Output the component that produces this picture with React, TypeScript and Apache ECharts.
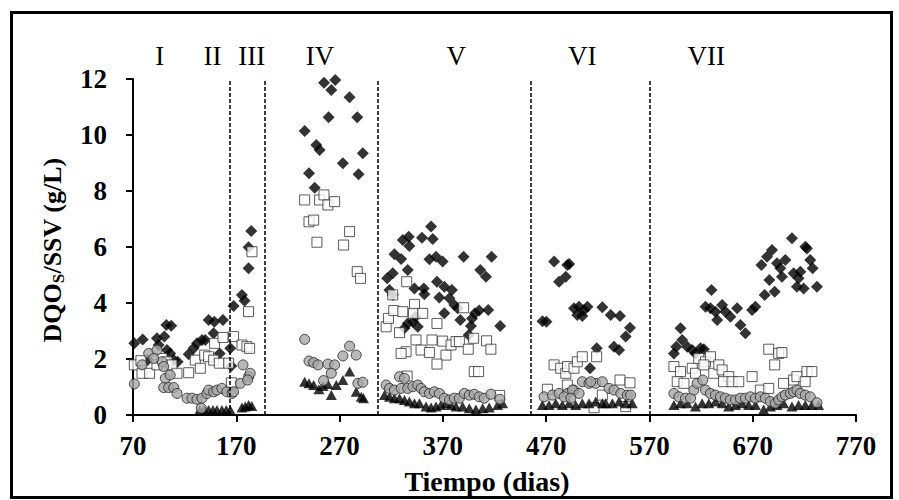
import React, { useEffect, useRef } from "react";
import * as echarts from "echarts";

// X axis (days) and Y axis ticks
const xMin = 70;
const xMax = 770;
const xInterval = 100;
const yMin = 0;
const yMax = 12;
const yInterval = 2;

// Phase boundaries (days) and phase labels
const phaseBoundaries = [163.5, 198, 306.5, 455, 570.5];
const phaseLabels = ["I", "II", "III", "IV", "V", "VI", "VII"];
const phaseLabelDays = [96, 147, 185, 251, 383, 505, 625];

// Series 1: black diamonds [day, g/L]
const diamondPts: [number, number][] = [
  [71.3, 2.56], [79.4, 2.7], [84.2, 1.96], [93.2, 2.74], [94.8, 2.5], [102.3, 3.21], [107, 3.19],
  [100.3, 2.8], [102.9, 2.32], [106, 2.2], [109.4, 1.96], [113.2, 1.9], [123.9, 2.17], [128.7, 2.38],
  [132, 2.56], [136.8, 2.68], [140, 2.68], [143.2, 3.39], [148.7, 3.33], [157.1, 3.39], [148, 2.92],
  [153.9, 2.2], [164.2, 2.38], [165.2, 1.75], [167.4, 3.89], [175.5, 4.29], [178, 4.08], [181.9, 5.24],
  [181.9, 5.99], [184.5, 6.57],
  [254.9, 11.87], [265.8, 11.96], [262, 11.61], [279.7, 11.35], [259.4, 10.63], [287.1, 10.63],
  [236.2, 10.14], [247.5, 9.64], [250.7, 9.46], [292.5, 9.35], [273.2, 8.99], [240.4, 8.63],
  [288.4, 8.6], [245.9, 8.12],
  [316.1, 4.88], [321.5, 5.06], [318.3, 4.46], [321.5, 4.29], [323.1, 5.74], [329.6, 5.57], [331.2, 6.25],
  [337, 6.37], [337.6, 6.04], [336, 5.18], [342.5, 4.52], [351.5, 4.52], [352.1, 4.31], [349.8, 6.33],
  [358.6, 6.73], [360.2, 6.29], [357, 5.56], [363.4, 5.65], [369.8, 5.48], [390.1, 5.65], [417.2, 5.65],
  [406.2, 5.18], [411.7, 4.94], [364.3, 4.76], [371.4, 4.58], [378.8, 4.46], [366.6, 4.2], [376.3, 4.17],
  [381.1, 3.93], [384.3, 3.81], [371.4, 3.63], [386.9, 3.39], [401.1, 3.63], [398.2, 3.45], [405.2, 3.73],
  [413.9, 3.75], [425.5, 3.18], [397.2, 3.18], [395, 2.86], [336, 3.27], [340.9, 3.33], [345.7, 3.15],
  [332.8, 3.1], [343.4, 3.51],
  [466.5, 3.35], [470.3, 3.33], [477.7, 5.48], [490.5, 5.36], [489, 4.94], [482.5, 4.76], [492.3, 5.39],
  [497, 3.81], [501.8, 3.87], [506.7, 3.75], [500.2, 3.57], [505, 3.54], [510, 3.87], [524.4, 3.85],
  [532.5, 3.57], [541.5, 3.54], [551.2, 3.12], [547, 2.8], [535.7, 2.44], [540.6, 2.32], [519, 2.38],
  [512.5, 1.67],
  [593.7, 2.2], [596, 2.44], [600.1, 3.1], [601.7, 2.68], [606.6, 2.44], [611.4, 2.32], [614.6, 2.2],
  [619.5, 2.38], [622.7, 2.35], [630.1, 4.46], [624.3, 3.87], [629.1, 3.81], [633.9, 3.69], [635.6, 3.39],
  [640.4, 3.93], [643.6, 3.69], [648.4, 3.51], [654.9, 3.81], [658.1, 3.21], [662.9, 2.92], [669.4, 3.75],
  [672.6, 3.87], [681.6, 4.29], [686.1, 4.82], [691.3, 4.4], [678.4, 5.36], [683.9, 5.65], [688.7, 5.89],
  [693.5, 5.42], [696.7, 5.24], [701.6, 5.54], [698.3, 4.94], [708, 6.31], [709.6, 5.06], [714.4, 4.88],
  [712.8, 4.58], [716.1, 5.12], [720.9, 6.01], [722.5, 5.95], [725.7, 5.54], [728, 5.24], [719.3, 4.52],
  [732.2, 4.58],
];

// Series 2: open squares
const squarePts: [number, number][] = [
  [71.3, 1.79], [77.7, 1.94], [78.7, 1.49], [86.1, 1.49], [93.2, 1.79], [98.1, 2.02], [102.9, 1.9],
  [107.7, 1.79], [112.6, 1.49], [123.9, 1.51], [130.3, 1.96], [135.2, 1.67], [139.4, 2.14], [143.2, 2.08],
  [148.1, 1.96], [149, 2.56], [157.1, 2.77], [153.6, 1.85], [162.6, 1.85], [165.2, 1.15], [167.4, 2.8],
  [175.5, 2.5], [180.3, 2.44], [182.9, 2.38], [181.9, 3.69], [185.2, 5.83],
  [236.2, 7.68], [250.7, 7.68], [254.9, 7.86], [258.7, 7.5], [265.2, 7.62], [240.4, 6.9], [244.9, 6.96],
  [279.7, 6.55], [248.1, 6.17], [273.9, 6.07], [287.1, 5.12], [290.3, 4.88],
  [315.1, 3.15], [317.3, 3.45], [321.5, 4.29], [335, 4.76], [322.5, 3.73], [331.2, 3.69], [342.5, 3.95],
  [341.5, 3.63], [350.5, 3.63], [328, 2.94], [344, 2.68], [348.9, 2.32], [334.4, 2.26], [329.6, 2.2],
  [357, 2.23], [359.5, 2.68], [364.3, 3.27], [369.8, 2.64], [373, 2.14], [377.9, 2.5], [382.7, 2.62],
  [390.1, 3.83], [386, 2.62], [394.6, 2.35], [399.8, 2.74], [412.3, 2.65], [416.5, 2.35], [364.3, 1.82],
  [400.4, 1.55], [404.6, 1.55], [335.4, 1.39], [425, 0.7],
  [471.2, 0.92], [477.7, 1.79], [484.1, 1.67], [489, 1.49], [490.7, 1.73], [497, 1.67], [500.2, 1.9],
  [505, 2.08], [518.9, 2.08], [490.5, 1.07], [524.4, 0.71], [541.5, 1.25], [551.2, 1.15], [516.4, 0.26],
  [547, 0.3],
  [593.7, 1.73], [600.1, 1.55], [596.9, 1.19], [603.4, 1.13], [611.4, 1.67], [614.6, 1.49], [617.8, 2.02],
  [624.3, 1.9], [629.1, 2.08], [622.7, 1.79], [632.3, 1.49], [637.2, 1.79], [640.4, 1.61], [646.8, 1.37],
  [641.8, 1.19], [650, 1.19], [656.5, 1.19], [669.4, 1.37], [685.5, 2.35], [695.1, 2.2], [691.3, 1.79],
  [698.3, 2.23], [677.4, 0.89], [685.5, 0.95], [699.9, 1.13], [709.6, 1.25], [712.8, 1.37], [722.5, 1.55],
  [727.3, 1.55], [720.8, 1.19],
];

// Series 3: gray circles
const circlePts: [number, number][] = [
  [71.3, 1.11], [78.7, 1.79], [85.2, 2.2], [93.2, 2.32], [98.1, 1.9], [99.7, 1.73], [90, 2.02],
  [101.3, 1.31], [106, 1.43], [99.7, 0.98], [104.5, 0.98], [109.4, 0.98], [112.6, 0.77], [122.3, 0.6],
  [127.1, 0.6], [132, 0.56], [136.8, 0.6], [141.6, 0.77], [143.2, 0.89], [148.1, 0.83], [151.3, 0.89],
  [156.1, 0.95], [160.9, 0.83], [165.8, 0.77], [167.4, 0.83], [136.1, 0.24], [173.9, 1.13], [176.5, 1.79],
  [181.9, 1.37], [183.5, 1.49], [181, 1.25],
  [236.2, 2.7], [240.4, 1.93], [244.9, 1.87], [249.1, 1.79], [258.7, 1.82], [265.2, 1.79], [262, 1.49],
  [279.7, 2.46], [273.2, 2.11], [286.1, 2.14], [254.5, 1.23], [287.7, 1.13], [292.5, 1.17],
  [315.1, 1.07], [318.3, 0.95], [323.1, 0.89], [328, 1.37], [332.8, 1.31], [329.6, 0.95], [336, 0.95],
  [340.9, 1.01], [345.7, 1.07], [348.9, 0.95], [352.1, 0.83], [357, 0.77], [361.8, 0.83], [366.6, 0.77],
  [371.4, 0.6], [376.3, 0.54], [381.1, 0.6], [386, 0.6], [390.8, 0.77], [395.6, 0.71], [400.4, 0.74],
  [405.2, 0.65], [410.1, 0.6], [416.5, 0.74], [425.2, 0.56],
  [468, 0.65], [476, 0.71], [482.5, 0.77], [490.5, 0.77], [497, 0.89], [505, 1.19], [511.5, 1.13],
  [518, 1.13], [524.4, 1.19], [513.2, 1.19], [530.9, 0.95], [535.7, 0.89], [542.2, 0.77], [548.6, 0.71],
  [551.8, 0.71], [495.5, 0.89], [487.4, 0.65], [501.9, 0.77], [493.9, 0.6],
  [593.7, 0.77], [598.5, 0.65], [604.9, 0.6], [609.8, 0.6], [613, 0.89], [616.2, 1.13], [621.7, 1.25],
  [624.3, 0.89], [629.1, 0.77], [633.9, 0.71], [638.8, 0.65], [643.6, 0.6], [648.4, 0.54], [653.3, 0.54],
  [658.1, 0.6], [662.9, 0.6], [667.7, 0.65], [672.6, 0.6], [677.4, 0.65], [682.2, 0.6], [687.1, 0.48],
  [691.9, 0.42], [695.1, 0.54], [698.3, 0.65], [701.6, 0.71], [706.4, 0.77], [709.6, 0.83], [712.8, 0.89],
  [716.1, 0.77], [720.9, 0.71], [725.7, 0.65], [732.2, 0.44],
];

// Series 4: black triangles
const trianglePts: [number, number][] = [
  [134.5, 0.18], [139, 0.18], [143.2, 0.18], [147.4, 0.18], [151.3, 0.18], [156.1, 0.18], [160.3, 0.18],
  [164.2, 0.18], [175.5, 0.27], [178.7, 0.3], [182, 0.36], [185, 0.32],
  [236.2, 1.19], [240.4, 1.13], [244.9, 1.07], [250, 0.92], [253.9, 1.04], [262, 0.71], [258.7, 1.11],
  [266.8, 1.07], [273.2, 1.25], [279.7, 1.55], [286.1, 0.83], [291, 0.65], [293.2, 0.6],
  [313.5, 0.71], [318.3, 0.65], [323.1, 0.6], [328, 0.6], [332.8, 0.54], [337.6, 0.48], [342.5, 0.42],
  [347.3, 0.42], [353.7, 0.3], [358.6, 0.27], [363.4, 0.3], [368.2, 0.36], [373, 0.42], [377.9, 0.36],
  [382.7, 0.3], [389.1, 0.3], [395.6, 0.24], [402, 0.2], [408.5, 0.24], [414.9, 0.27], [423, 0.36],
  [427.8, 0.42],
  [466.4, 0.36], [472.8, 0.36], [479.3, 0.42], [485.7, 0.36], [492.2, 0.42], [498.6, 0.36], [505, 0.42],
  [511.5, 0.42], [518, 0.48], [524.4, 0.42], [527.7, 0.42], [534.1, 0.42], [540.6, 0.48], [547, 0.42],
  [553.4, 0.42],
  [593.7, 0.36], [600.1, 0.42], [606.6, 0.42], [614.6, 0.3], [621, 0.42], [627.5, 0.42], [633.9, 0.48],
  [640.4, 0.42], [646.8, 0.3], [653.3, 0.36], [659.7, 0.42], [666.1, 0.36], [672.6, 0.36], [680.6, 0.2],
  [687.1, 0.3], [693.5, 0.36], [699.9, 0.42], [708, 0.3], [714.4, 0.36], [720.9, 0.36], [727.3, 0.36],
  [733.8, 0.36],
];

const FONT = "'Times New Roman', 'Liberation Serif', serif";

export default function App() {
  const ref = useRef<HTMLDivElement>(null);

  useEffect(() => {
    document.body.style.margin = "0";
    const chart = echarts.init(ref.current as HTMLDivElement, null, { renderer: "svg" });

    chart.setOption({
      animation: false,
      backgroundColor: "#ffffff",
      grid: { left: 133, right: 43, top: 79, bottom: 85 },
      xAxis: {
        type: "value",
        min: xMin,
        max: xMax,
        interval: xInterval,
        splitLine: { show: false },
        axisLine: { show: true, onZero: false, lineStyle: { color: "#000", width: 2 } },
        axisTick: { show: true, inside: false, length: 7, lineStyle: { color: "#000", width: 2 } },
        axisLabel: {
          color: "#000",
          fontFamily: FONT,
          fontWeight: "bold",
          fontSize: 27,
          margin: 17,
          showMinLabel: true,
          showMaxLabel: true,
        },
      },
      yAxis: {
        type: "value",
        min: yMin,
        max: yMax,
        interval: yInterval,
        splitLine: { show: false },
        axisLine: { show: true, onZero: false, lineStyle: { color: "#000", width: 2 } },
        axisTick: { show: true, inside: false, length: 7, lineStyle: { color: "#000", width: 2 } },
        axisLabel: {
          color: "#000",
          fontFamily: FONT,
          fontWeight: "bold",
          fontSize: 27,
          margin: 26,
        },
      },
      series: [
        {
          name: "Serie 1",
          type: "scatter",
          symbol: "diamond",
          symbolSize: 12,
          itemStyle: { color: "#000", borderColor: "#000", borderWidth: 0 },
          data: diamondPts,
          markLine: {
            silent: true,
            symbol: ["none", "none"],
            label: { show: false },
            lineStyle: { color: "#000", width: 1.5, type: [4, 2] },
            data: phaseBoundaries.map((d) => ({ xAxis: d })),
          },
        },
        {
          name: "Serie 2",
          type: "scatter",
          symbol: "rect",
          symbolSize: 10,
          itemStyle: { color: "#fff", borderColor: "#333", borderWidth: 1 },
          data: squarePts,
        },
        {
          name: "Serie 4",
          type: "scatter",
          symbol: "triangle",
          symbolSize: [11, 10],
          itemStyle: { color: "#000", borderColor: "#000", borderWidth: 0 },
          data: trianglePts,
        },
        {
          name: "Serie 3",
          type: "scatter",
          symbol: "circle",
          symbolSize: 10,
          itemStyle: { color: "#a6a6a6", borderColor: "#222", borderWidth: 1 },
          data: circlePts,
        },
      ],
    });

    const romanGraphics = phaseLabels.map((t, i) => ({
      type: "text",
      x: chart.convertToPixel({ xAxisIndex: 0 }, phaseLabelDays[i]) as number,
      y: 56,
      style: {
        text: t,
        fill: "#000",
        fontFamily: FONT,
        fontSize: 27,
        fontWeight: "normal",
        align: "center",
        verticalAlign: "middle",
        textAlign: "center",
        textVerticalAlign: "middle",
      },
    }));

    chart.setOption({
      graphic: [
        {
          type: "rect",
          shape: { x: 11.5, y: 12.5, width: 880, height: 485 },
          style: { fill: "none", stroke: "#000", lineWidth: 3 },
        },
        ...romanGraphics,
        {
          type: "text",
          x: 52,
          y: 250,
          rotation: Math.PI / 2,
          style: {
            text: "{a|DQO}{s|S}{a|/SSV (g/L)}",
            fill: "#000",
            align: "center",
            verticalAlign: "middle",
            textAlign: "center",
            textVerticalAlign: "middle",
            rich: {
              a: { fontFamily: FONT, fontWeight: "bold", fontSize: 26, lineHeight: 30, fill: "#000" },
              s: {
                fontFamily: FONT,
                fontWeight: "bold",
                fontSize: 17,
                lineHeight: 17,
                verticalAlign: "bottom",
                fill: "#000",
              },
            },
          },
        },
        {
          type: "text",
          x: 487,
          y: 481,
          style: {
            text: "Tiempo (dias)",
            fill: "#000",
            fontFamily: FONT,
            fontWeight: "bold",
            fontSize: 28,
            align: "center",
            verticalAlign: "middle",
            textAlign: "center",
            textVerticalAlign: "middle",
          },
        },
      ],
    });

    return () => chart.dispose();
  }, []);

  return <div ref={ref} style={{ width: 899, height: 500 }} />;
}
